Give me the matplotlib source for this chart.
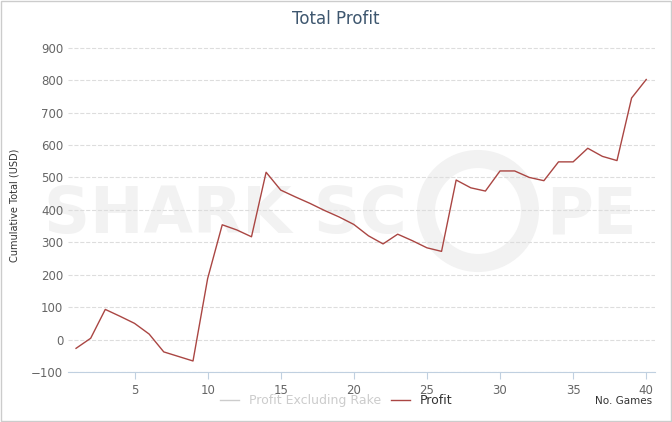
import matplotlib.pyplot as plt
from matplotlib.patches import Circle, Rectangle

games = list(range(1, 41))
profit = [-27, 4, 93, 72, 50, 17, -38, -52, -66, 188,
          354, 338, 317, 516, 461, 440, 420, 398, 378, 355,
          320, 295, 325, 305, 283, 272, 492, 468, 458, 520,
          520, 500, 490, 548, 548, 590, 565, 552, 745, 802]
yticks = [-100, 0, 100, 200, 300, 400, 500, 600, 700, 800, 900]
xticks = [5, 10, 15, 20, 25, 30, 35, 40]

fig = plt.figure(figsize=(6.72, 4.22), dpi=100)
fig.patches.append(Rectangle((0.002, 0.002), 0.996, 0.996, transform=fig.transFigure,
                             fill=False, edgecolor='#cccccc', lw=1))
ax = fig.add_axes([68 / 672, 1 - 372 / 422, 587 / 672, 334 / 422])
ax.set_zorder(2)

# watermark, behind the axes
fig.text(0.335, 0.49, 'SHARK SC', fontsize=46, fontweight='bold',
         color='#f2f2f2', ha='center', va='center', zorder=0)
fig.text(0.88, 0.49, 'PE', fontsize=46, fontweight='bold',
         color='#f2f2f2', ha='center', va='center', zorder=0)
fig.patches.append(Circle((478, 211), 52, transform=None, fill=False,
                          edgecolor='#f2f2f2', lw=13, zorder=0))

ax.plot(games, profit, color='#aa4643', lw=1, label='Profit', zorder=3)
ax.plot([], [], color='#cccccc', lw=1, label='Profit Excluding Rake')

ax.set_xlim(0.45, 40.6)
ax.set_ylim(-100, 930)
ax.set_yticks(yticks)
ax.set_xticks(xticks)
ax.patch.set_alpha(0)
ax.grid(axis='y', color='#dddddd', ls='--', lw=0.8)
ax.set_axisbelow(True)
for s in ['top', 'right', 'left']:
    ax.spines[s].set_visible(False)
ax.spines['bottom'].set_color('#c0d0e0')
ax.tick_params(axis='y', length=0, labelsize=8.5, colors='#666666')
ax.tick_params(axis='x', labelsize=8.5, colors='#666666', color='#c0d0e0', length=5)
ax.set_ylabel('Cumulative Total (USD)', fontsize=7, color='#333333', labelpad=8)
fig.text(0.5, 0.955, 'Total Profit', ha='center', va='center', fontsize=12, color='#3e576f')
fig.text(0.97, 0.05, 'No. Games', ha='right', va='center', fontsize=7.5, color='#333333')

h, l = ax.get_legend_handles_labels()
fig.legend(h[::-1], l[::-1], loc='center', bbox_to_anchor=(0.5, 0.05), ncol=2,
           frameon=False, fontsize=9, labelcolor=['#cccccc', '#333333'], handlelength=1.5,
           columnspacing=0.8)
fig.savefig('out.png', dpi=100)
